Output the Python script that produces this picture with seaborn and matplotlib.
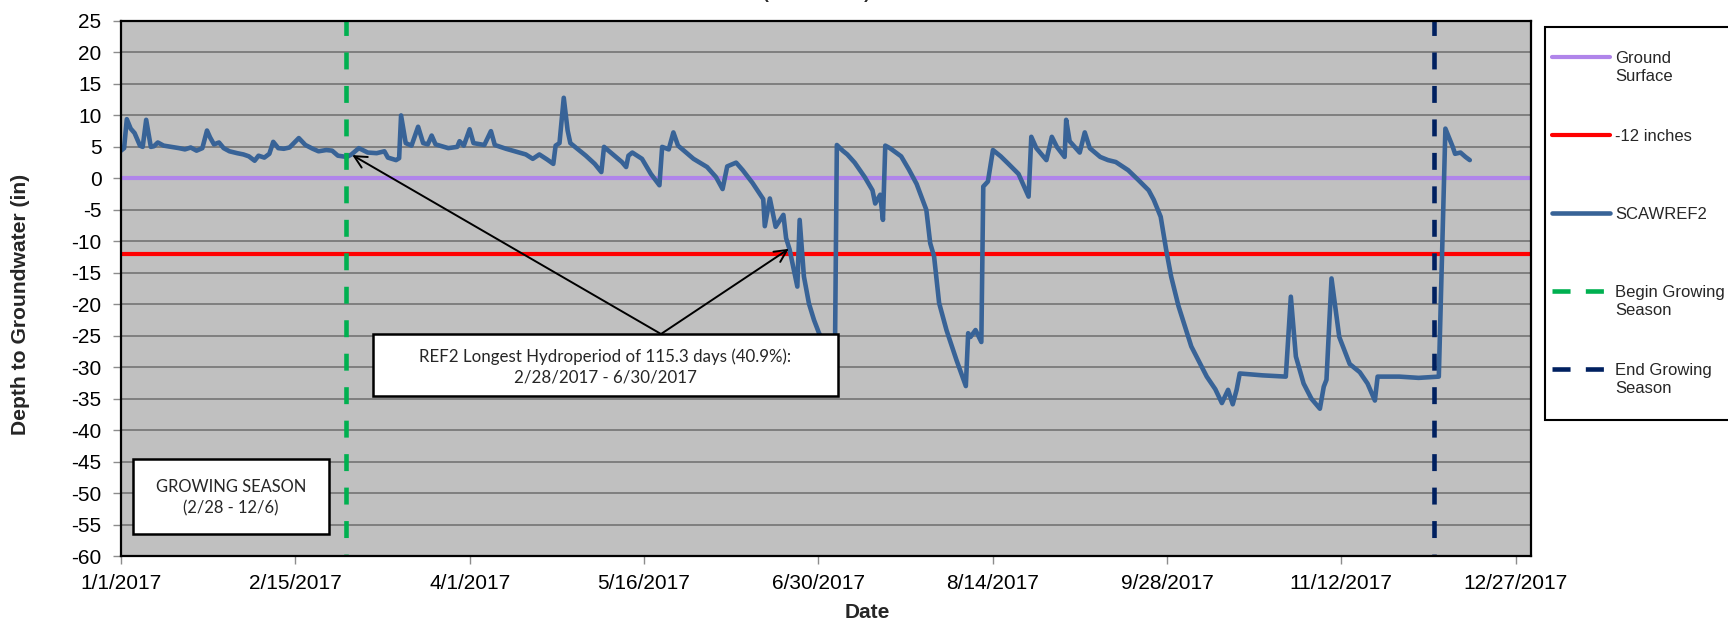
import numpy as np
import pandas as pd
import matplotlib
matplotlib.use("Agg")
import matplotlib.pyplot as plt
import seaborn as sns
from matplotlib.lines import Line2D
from matplotlib.legend_handler import HandlerLine2D
from matplotlib.patches import Rectangle

# ---------------- data ----------------
start_date = "2017-01-01"
day_offset = [
    0, 0.8, 1.5, 2.5, 3.5, 4.9, 5.6, 6.5, 7.7, 8.5, 9.5, 11, 13, 15, 16.5, 18, 19.5, 21,
    22.2, 23, 24, 25.3, 26.5, 28, 30, 31.6, 33, 34.5, 35.5, 37, 38.3, 39.3, 40.6, 42, 43.5,
    45.9, 47.6, 49.5, 51, 53, 54.5, 56, 58.3, 59.5, 61.4, 63.7, 66, 68, 68.9, 71, 71.8,
    72.3, 73.5, 75, 76.7, 78, 79.2, 80.2, 81.2, 84.5, 86.8, 87.4, 88.5, 90, 91, 93.8, 95.5,
    96.5, 99.4, 102.8, 104.5, 106.3, 108, 110, 111.6, 112.2, 113.2, 114.3, 115.3, 116,
    117.8, 120, 122.3, 124, 124.7, 127, 129.3, 130.4, 131, 132, 134.5, 136.8, 139, 139.7,
    141.4, 142.6, 143.8, 145.5, 147.8, 151.3, 153.6, 155.3, 156.5, 158.8, 160.5, 163,
    165.8, 166.2, 167.5, 169, 171, 171.7, 172.6, 174.6, 175.2, 176.3, 177.6, 178.9, 180.2,
    182, 184.3, 184.8, 186.3, 187.5, 189.4, 192, 194, 194.7, 196, 196.7, 197.3, 198.5,
    201.4, 203.4, 205.4, 207.9, 208.9, 209.9, 211.2, 213.1, 215.7, 218.1, 218.7, 219.3,
    220.6, 222.1, 222.6, 223.8, 225.1, 227.1, 229.1, 231.7, 234.3, 235, 236.3, 238.9,
    240.3, 241.6, 243.6, 244, 244.9, 247.5, 248.8, 250.1, 252.8, 254.8, 256.8, 260, 262.7,
    265.3, 266.6, 268.4, 269.8, 271.1, 273, 276.3, 280.3, 282.5, 284.2, 285.8, 287, 288,
    288.8, 294.7, 300.7, 302, 303.3, 305.3, 307.3, 309.5, 310.5, 311.2, 312.5, 314.5,
    317.2, 319.8, 321.8, 323.7, 324.4, 330, 335, 340.2, 341.9, 343.8, 344.4, 345.8, 347.1,
    348.2,
]
depth_in = [
    4.4, 4.8, 9.4, 7.9, 7.2, 5.2, 5.0, 9.3, 5.0, 5.1, 5.7, 5.2, 5.0, 4.8, 4.6, 4.9, 4.4, 4.8,
    7.6, 6.5, 5.4, 5.7, 4.8, 4.3, 4.0, 3.8, 3.5, 2.8, 3.6, 3.3, 3.9, 5.8, 4.8, 4.7, 4.9,
    6.4, 5.3, 4.7, 4.3, 4.5, 4.4, 3.6, 3.4, 3.8, 4.8, 4.1, 4.0, 4.3, 3.3, 2.9, 3.2,
    10.0, 5.6, 5.2, 8.2, 5.6, 5.4, 6.8, 5.4, 4.8, 5.0, 5.9, 5.2, 7.8, 5.6, 5.3, 7.5,
    5.3, 4.7, 4.1, 3.8, 3.1, 3.8, 3.0, 2.3, 5.2, 5.6, 12.8, 7.6, 5.6,
    4.7, 3.6, 2.3, 1.0, 5.0, 3.8, 2.6, 1.8, 3.6, 4.1, 3.1, 0.7, -1.1, 5.0,
    4.6, 7.3, 5.2, 4.3, 3.1, 1.8, 0.2, -1.7, 1.9, 2.5, 1.3, -0.7,
    -3.3, -7.6, -3.2, -7.7, -5.8, -9.5, -11.3, -17.2, -6.6, -15.6, -19.9, -22.5, -24.6,
    -26.5, -28.5, 5.3, 4.4, 3.8, 2.5, 0.2, -1.9, -4.0, -2.6, -6.6, 5.2, 4.8,
    3.5, 1.4, -0.9, -5.0, -10.3, -12.4, -19.8, -24.1, -28.9, -33.0, -24.6, -25.2,
    -24.1, -26.0, -1.3, -0.5, 4.5, 3.5, 2.3, 0.7, -2.9, 6.6, 4.8, 2.9,
    6.6, 5.0, 3.4, 9.3, 5.9, 4.1, 7.3, 4.8, 3.4, 2.9, 2.6, 1.3, -0.3,
    -1.9, -3.4, -6.1, -11.3, -15.6, -20.3, -26.7, -31.5, -33.5, -35.7, -33.6, -35.9, -33.6,
    -31.0, -31.3, -31.5, -18.8, -28.3, -32.6, -35.0, -36.6, -33.1, -32.0, -15.9, -25.2,
    -29.5, -30.8, -32.6, -35.3, -31.5, -31.5, -31.7, -31.5, 7.9, 5.0, 3.9, 4.1, 3.4,
    2.9,
]
ground_surface = 0
minus_12_inches = -12
begin_growing = "2017-02-28"
end_growing = "2017-12-06"
x_tick_dates = ["2017-01-01", "2017-02-15", "2017-04-01", "2017-05-16", "2017-06-30",
                "2017-08-14", "2017-09-28", "2017-11-12", "2017-12-27"]
x_tick_labels = ["1/1/2017", "2/15/2017", "4/1/2017", "5/16/2017", "6/30/2017",
                 "8/14/2017", "9/28/2017", "11/12/2017", "12/27/2017"]
x_limits = ["2017-01-01", "2017-12-31"]
y_ticks = list(range(-60, 30, 5))
y_limits = [-60, 25]
legend_labels = ["Ground\nSurface", "-12 inches\n", "SCAWREF2\n",
                 "Begin Growing\nSeason", "End Growing\nSeason"]
hydro_text = "REF2 Longest Hydroperiod of 115.3 days (40.9%):\n2/28/2017 - 6/30/2017"
season_text = "GROWING SEASON\n(2/28 - 12/6)"
arrow_tip_days = [59.7, 172.4]
arrow_tip_depth = [3.7, -11.2]

# ---------------- styling ----------------
sns.set_theme(style="white")
plt.rcParams["font.family"] = ["Liberation Sans", "DejaVu Sans"]
plt.rcParams["lines.scale_dashes"] = False

C_GROUND, C_RED, C_BLUE = "#B085EA", "#FF0000", "#386397"
C_GREEN, C_NAVY = "#00B050", "#002060"

W, H = 1728, 621
fig = plt.figure(figsize=(W / 100, H / 100), dpi=100)
fig.patch.set_facecolor("white")
ax = fig.add_axes([121 / W, (H - 556) / H, 1410 / W, 535 / H])
ax.set_facecolor("#C0C0C0")

t0 = pd.Timestamp(start_date)
df = pd.DataFrame({"Date": t0 + pd.to_timedelta(day_offset, unit="D"),
                   "Depth": depth_in})

ground_line = ax.axhline(ground_surface, color=C_GROUND, lw=3.0, zorder=3)
red_line = ax.axhline(minus_12_inches, color=C_RED, lw=3.0, zorder=3)
sns.lineplot(data=df, x="Date", y="Depth", ax=ax, color=C_BLUE, lw=3.3,
             estimator=None, sort=False, legend=False, zorder=4)
blue_line = ax.lines[-1]
dash = (10.8, (12.2, 11.9))
ax.axvline(pd.Timestamp(begin_growing), color=C_GREEN, lw=3.3, ls=dash, zorder=5)
ax.axvline(pd.Timestamp(end_growing), color=C_NAVY, lw=3.3, ls=dash, zorder=5)

ax.set_xlim(pd.Timestamp(x_limits[0]), pd.Timestamp(x_limits[1]))
ax.set_ylim(*y_limits)
ax.set_xticks([pd.Timestamp(d) for d in x_tick_dates])
ax.set_xticklabels(x_tick_labels)
ax.set_yticks(y_ticks)
ax.set_yticklabels([str(v) for v in y_ticks])
ax.set_xlabel("")
ax.set_ylabel("")
ax.tick_params(axis="both", direction="out", length=6, width=1, color="#8C8C8C",
               labelsize=15, labelcolor="black")
ax.tick_params(axis="y", pad=8, left=True)
ax.tick_params(axis="x", pad=7, bottom=True)
ax.yaxis.grid(True, color="#747474", lw=1.2)
ax.xaxis.grid(False)
ax.set_axisbelow(True)
for s in ax.spines.values():
    s.set_visible(True)
    s.set_color("black")
    s.set_linewidth(1.6)
    s.set_zorder(6)

# annotation boxes
def ax_frac(px, py):
    return (px - 121) / 1410, (556 - py) / 535

BOX_FONT = ["Lato", "DejaVu Sans"]
x0, y0 = ax_frac(373, 396)
x1, y1 = ax_frac(838, 334)
ax.add_patch(Rectangle((x0, y0), x1 - x0, y1 - y0, transform=ax.transAxes,
                       fc="white", ec="black", lw=1.8, zorder=10))
cx, cy = ax_frac(605.5, 367)
ax.text(cx, cy, hydro_text, transform=ax.transAxes, ha="center", va="center",
        fontsize=12.2, family=BOX_FONT, linespacing=1.35, zorder=11)

x0, y0 = ax_frac(133, 534)
x1, y1 = ax_frac(329, 459)
ax.add_patch(Rectangle((x0, y0), x1 - x0, y1 - y0, transform=ax.transAxes,
                       fc="white", ec="black", lw=1.8, zorder=10))
cx, cy = ax_frac(231, 498)
ax.text(cx, cy, season_text, transform=ax.transAxes, ha="center", va="center",
        fontsize=11.9, family=BOX_FONT, linespacing=1.4, zorder=11)

ox, oy = ax_frac(661, 334)
for d, v in zip(arrow_tip_days, arrow_tip_depth):
    ax.annotate("", xy=(t0 + pd.Timedelta(days=d), v), xycoords="data",
                xytext=(ox, oy), textcoords="axes fraction",
                arrowprops=dict(arrowstyle="->", color="black", lw=1.4,
                                mutation_scale=22, shrinkA=0, shrinkB=0),
                zorder=9)

# axis titles
fig.text(21 / W, 1 - 304 / H, "Depth to Groundwater (in)", rotation=90,
         ha="center", va="center", fontsize=15.2, fontweight="bold")
fig.text(867 / W, 3 / H, "Date", ha="center", va="baseline", fontsize=15,
         fontweight="bold")
fig.text(816 / W, 1 + 0.5 / H, "(SCAWREF2)", ha="center", va="baseline",
         fontsize=12.5, fontweight="bold")

# legend
class UpperLineHandler(HandlerLine2D):
    def __init__(self, dy, dx, **kw):
        super().__init__(**kw)
        self.dy = dy
        self.dx = dx

    def create_artists(self, legend, orig_handle, xdescent, ydescent, width,
                       height, fontsize, trans):
        arts = super().create_artists(legend, orig_handle, xdescent, ydescent,
                                      width, height, fontsize, trans)
        for a in arts:
            if isinstance(a, Line2D):
                xd = np.asarray(a.get_xdata(), float)
                yd = np.asarray(a.get_ydata(), float)
                a.set_xdata(np.linspace(xd[0] - self.dx, xd[-1], len(xd)))
                a.set_ydata(yd + self.dy)
        return arts

leg_dash = (0, (13, 11))
handles = [ground_line, red_line, blue_line,
           Line2D([], [], color=C_GREEN, lw=3.3, ls=leg_dash),
           Line2D([], [], color=C_NAVY, lw=3.3, ls=leg_dash)]
leg = fig.legend(handles, legend_labels, loc="upper left",
                 bbox_to_anchor=(1545 / W, 1 - 27 / H), bbox_transform=fig.transFigure,
                 borderaxespad=0, borderpad=1.45, handlelength=2.45, handletextpad=0.3,
                 labelspacing=2.7, fancybox=False, shadow=False, frameon=True,
                 prop={"family": "Liberation Sans", "size": 12},
                 handler_map={Line2D: UpperLineHandler(dy=7.5, dx=12.2)})
fr = leg.get_frame()
fr.set_edgecolor("black")
fr.set_linewidth(1.5)
fr.set_facecolor("white")
fr.set_alpha(1)
for t in leg.get_texts():
    t.set_linespacing(1.25)

fig.savefig("out.png", dpi=100, facecolor="white")
